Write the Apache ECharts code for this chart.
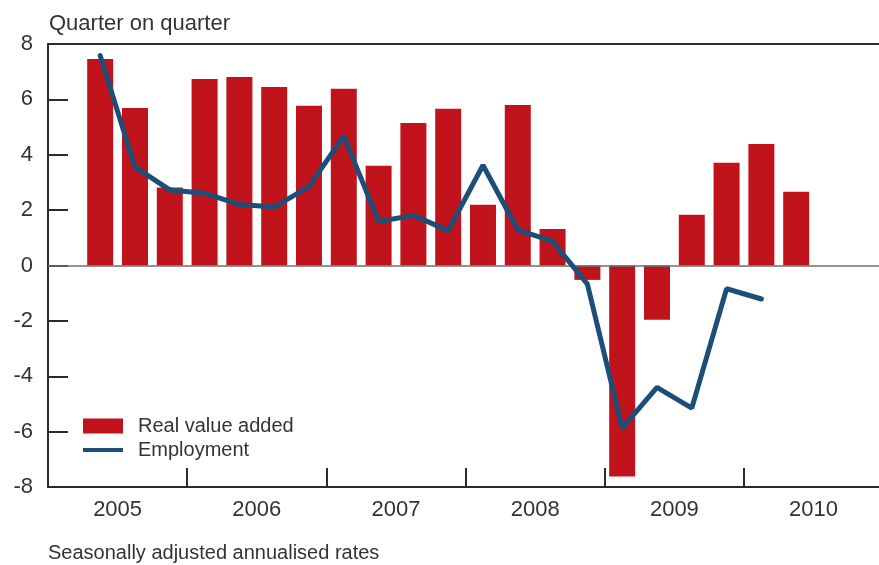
<!DOCTYPE html>
<html>
<head>
<meta charset="utf-8">
<script src="https://cdn.jsdelivr.net/npm/echarts@6/dist/echarts.min.js"></script>
<style>
  html, body { margin: 0; padding: 0; background: #fff; }
  #chart { width: 879px; height: 565px; }
</style>
</head>
<body>
<div id="chart"></div>
<script>
// quarters 2005Q2 .. 2010Q2
const quarters = ['2005Q2','2005Q3','2005Q4','2006Q1','2006Q2','2006Q3','2006Q4',
  '2007Q1','2007Q2','2007Q3','2007Q4','2008Q1','2008Q2','2008Q3','2008Q4',
  '2009Q1','2009Q2','2009Q3','2009Q4','2010Q1','2010Q2'];
const realValueAdded = [7.46, 5.69, 2.82, 6.74, 6.81, 6.45, 5.77, 6.38, 3.60, 5.15, 5.66,
  2.19, 5.80, 1.32, -0.52, -7.62, -1.96, 1.83, 3.71, 4.39, 2.66];
const employment = [7.58, 3.55, 2.73, 2.61, 2.20, 2.11, 2.85, 4.68, 1.59, 1.81, 1.26,
  3.62, 1.29, 0.87, -0.67, -5.87, -4.40, -5.15, -0.84, -1.21];
const years = [2005, 2006, 2007, 2008, 2009, 2010];
const yTicks = [-8, -6, -4, -2, 0, 2, 4, 6, 8];

const firstYear = years[0];
// position of a quarter on the x axis, in quarters since start of 2005
function qPos(q) {
  const y = parseInt(q.slice(0, 4), 10);
  const n = parseInt(q.slice(5), 10);
  return (y - firstYear) * 4 + (n - 1) + 0.5;
}

const font = 'Liberation Sans, Arial, sans-serif';
const textColor = '#333';
const axisColor = '#2b2b2b';
const xMax = 23.88; // last year runs past the right edge of the picture

// year boundaries get a tick, year middles get the label
const yearTicks = years.slice(1).map(y => (y - firstYear) * 4);
const yearMids = years.map(y => (y - firstYear) * 4 + 2);

const chart = echarts.init(document.getElementById('chart'));
chart.setOption({
  animation: false,
  textStyle: { fontFamily: font },
  title: [
    { text: 'Quarter on quarter', left: 44, top: 8,
      textStyle: { fontSize: 22, fontWeight: 'normal', color: textColor, fontFamily: font } },
    { text: 'Seasonally adjusted annualised rates', left: 43, top: 538,
      textStyle: { fontSize: 20, fontWeight: 'normal', color: textColor, fontFamily: font } }
  ],
  legend: {
    orient: 'vertical',
    left: 83, top: 416, padding: 0,
    itemWidth: 40, itemHeight: 15, itemGap: 4,
    textStyle: { fontSize: 20, color: textColor, fontFamily: font, padding: [0, 0, 0, 10] },
    data: [
      { name: 'Real value added', icon: 'rect' },
      { name: 'Employment', icon: 'path://M0,0 L40,0 L40,4 L0,4 Z' }
    ]
  },
  grid: { left: 48, top: 44, right: 0, height: 443 },
  xAxis: [
    {
      type: 'value', min: 0, max: xMax, position: 'bottom',
      axisLine: { show: true, onZero: false, lineStyle: { color: axisColor, width: 2 } },
      axisTick: { show: true, inside: true, length: 19, customValues: yearTicks,
        lineStyle: { color: axisColor, width: 2 } },
      splitLine: { show: false },
      axisLabel: {
        fontSize: 22, color: textColor, margin: 12, fontFamily: font,
        customValues: yearMids,
        formatter: v => String(firstYear + (v - 2) / 4)
      }
    },
    {
      type: 'value', min: 0, max: xMax, position: 'top',
      axisLine: { show: true, onZero: false, lineStyle: { color: axisColor, width: 2 } },
      axisTick: { show: false }, splitLine: { show: false }, axisLabel: { show: false }
    }
  ],
  yAxis: {
    type: 'value', min: yTicks[0], max: yTicks[yTicks.length - 1], interval: 2,
    axisLine: { show: true, onZero: false, lineStyle: { color: axisColor, width: 2 } },
    axisTick: { show: true, inside: true, length: 20, lineStyle: { color: axisColor, width: 2 } },
    splitLine: { show: false },
    axisLabel: { fontSize: 22, color: textColor, margin: 15, fontFamily: font }
  },
  series: [
    {
      name: 'Real value added',
      type: 'bar',
      barWidth: 26,
      itemStyle: { color: '#c1131c' },
      data: quarters.map((q, i) => [qPos(q), realValueAdded[i]]),
      markLine: {
        silent: true, symbol: 'none', label: { show: false },
        lineStyle: { color: '#6f6f6f', width: 1.5, type: 'solid' },
        data: [{ yAxis: 0 }]
      }
    },
    {
      name: 'Employment',
      type: 'line',
      symbol: 'none',
      z: 5,
      lineStyle: { color: '#1c4e78', width: 5, cap: 'round' },
      itemStyle: { color: '#1c4e78' },
      data: employment.map((v, i) => [qPos(quarters[i]), v])
    }
  ]
});
</script>
</body>
</html>
